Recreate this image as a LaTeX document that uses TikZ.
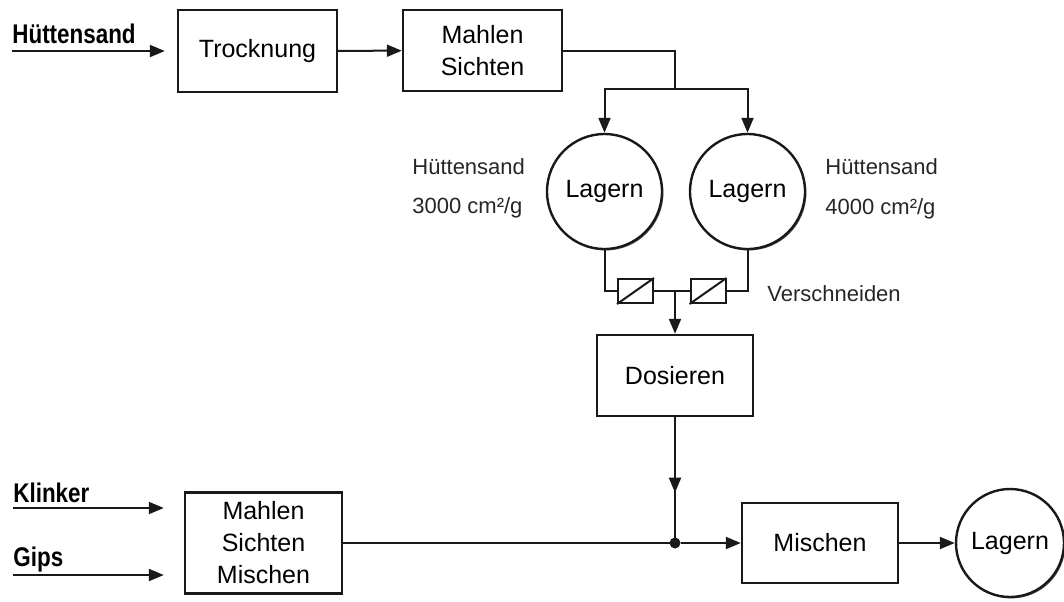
\documentclass[tikz,border=0pt]{standalone}
\usepackage{fontspec}
\setmainfont{Liberation Sans}
\newfontfamily\condfont[FakeStretch=0.83]{Liberation Sans}
\usepackage{tikz}
\usetikzlibrary{arrows.meta,positioning,decorations.markings,shadows}
\tikzset{
  >={Triangle[length=7.5pt,width=6pt]},
  pshadow/.style={drop shadow={shadow xshift=0.7pt, shadow yshift=-0.7pt,
                  fill=black!65, opacity=1}},
  pbox/.style={draw=black!90, fill=white, line width=1.2pt, align=center,
               inner sep=2pt, pshadow, font=\fontsize{12.5}{16}\selectfont},
  pstore/.style={circle, draw=black!90, fill=white, line width=1.2pt,
                 minimum size=57.5pt, inner sep=0pt, pshadow,
                 font=\fontsize{12.5}{16}\selectfont},
  pvalve/.style={draw=black!90, line width=1pt, minimum width=17.5pt,
                 minimum height=12pt, inner sep=0pt},
  pflow/.style={draw=black!90, line width=1pt},
  pdot/.style={circle, fill=black!90, inner sep=0pt, minimum size=5.5pt},
  pin/.style={inner sep=0pt, font=\condfont\bfseries\fontsize{13.5}{16}\selectfont},
  plbl/.style={inner sep=0pt, text=black!85, font=\fontsize{11}{13}\selectfont},
  pmid/.style={postaction={decorate},
               decoration={markings, mark=at position #1 with {\arrow{>}}}},
}

\begin{document}
\begin{tikzpicture}[x=0.5pt,y=-0.5pt]
  \useasboundingbox (0,0) rectangle (1064,601);

  % Huettensand-Linie oben
  \node[pbox, minimum width=79.5pt, minimum height=41pt] (trock) at (257.5,51) {Trocknung};
  \node[pbox, minimum width=79.5pt, minimum height=40.5pt] (mahlA) at (482.5,50.5) {Mahlen\\Sichten};
  \coordinate (inH) at (12,51);
  \node[pin, anchor=base west] (lblH) at (12,43) {Hüttensand};
  \draw[pflow, ->, shorten >=6pt] (inH) -- (trock);
  \draw[pflow, ->] (trock) -- (mahlA);

  % Silos
  \node[pstore] (lagA) at (604.5,191.5) {Lagern};
  \node[pstore] (lagB) at (747.5,191.5) {Lagern};
  \coordinate (split) at (675,89);
  \draw[pflow] (mahlA.east) -| (split);
  \draw[pflow, ->] (split) -| (lagA.north);
  \draw[pflow, ->] (split) -| (lagB.north);

  \node[plbl, anchor=base west] (fineA) at (412,174) {Hüttensand};
  \node[plbl, anchor=base west] (blA) at (412,213) {3000 cm²/g};
  \node[plbl, anchor=base west] (fineB) at (825,174) {Hüttensand};
  \node[plbl, anchor=base west] (blB) at (825,214) {4000 cm²/g};

  % Verschneiden
  \node[pvalve] (vA) at (635.5,291) {};
  \node[pvalve] (vB) at (708,291) {};
  \draw[pflow] (vA.south west) -- (vA.north east);
  \draw[pflow] (vB.south west) -- (vB.north east);
  \node[plbl, anchor=base west] (vlbl) at (767,301) {Verschneiden};
  \draw[pflow] (lagA.south) |- (vA.west);
  \draw[pflow] (lagB.south) |- (vB.east);
  \draw[pflow] (vA.east) -- (vB.west);

  \node[pbox, minimum width=78pt, minimum height=40.5pt] (dos) at (675,375.5) {Dosieren};
  \coordinate (mix) at (vA.east -| dos.north);
  \draw[pflow, ->] (mix) -- (dos.north);

  % Zementlinie unten
  \node[pbox, minimum width=78.5pt, minimum height=50.5pt] (mahlB) at (263.5,543) {Mahlen\\Sichten\\Mischen};
  \node[pbox, minimum width=78pt, minimum height=40pt] (misch) at (820,543) {Mischen};
  \node[pstore, minimum size=54pt] (lagC) at (1010,543) {Lagern};
  \node[pdot] (jdot) at (dos.south |- misch.west) {};

  \coordinate (inK) at (13,508);
  \coordinate (inG) at (13,575);
  \node[pin, anchor=base west] (lblK) at (13,502) {Klinker};
  \node[pin, anchor=base west] (lblG) at (13,566) {Gips};
  \draw[pflow, ->, shorten >=10pt] (inK) -- (inK -| mahlB.west);
  \draw[pflow, ->, shorten >=10pt] (inG) -- (inG -| mahlB.west);

  \draw[pflow, pmid=0.6] (dos.south) -- (jdot.center);
  \draw[pflow] (mahlB) -- (jdot.center);
  \draw[pflow, ->] (jdot) -- (misch);
  \draw[pflow, ->] (misch) -- (lagC);

\end{tikzpicture}
\end{document}
